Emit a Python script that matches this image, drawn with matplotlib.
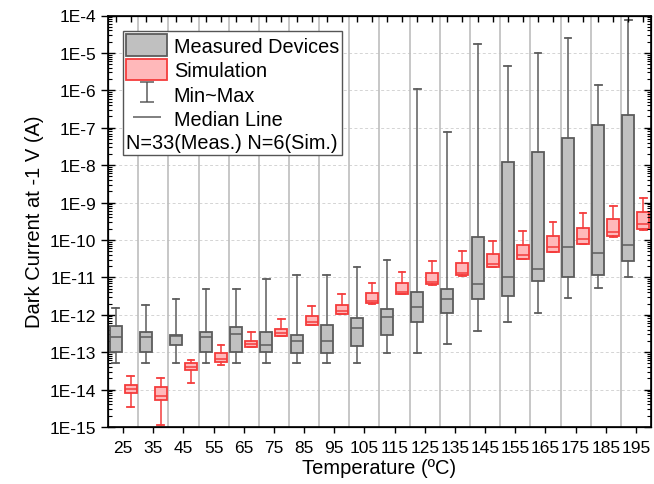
import numpy as np
import matplotlib
matplotlib.use('Agg')
import matplotlib.pyplot as plt
from matplotlib.patches import Patch
from matplotlib.lines import Line2D
from matplotlib.path import Path
from matplotlib.ticker import LogLocator, FuncFormatter, NullFormatter

plt.rcParams['font.family'] = ['Liberation Sans', 'DejaVu Sans']

# Temperature categories
temps = [25, 35, 45, 55, 65, 75, 85, 95, 105, 115, 125, 135, 145, 155, 165, 175, 185, 195]

# Measured devices, log10 of dark current (A)
meas_max = [-11.82, -11.73, -11.59, -11.30, -11.30, -11.04, -10.93, -10.93, -10.71, -10.54,
            -5.97, -7.11, -4.76, -5.34, -5.01, -4.60, -5.85, -4.11]
meas_q3 = [-12.29, -12.45, -12.53, -12.45, -12.34, -12.45, -12.53, -12.27, -12.08, -11.85,
           -11.38, -11.31, -9.91, -7.91, -7.66, -7.28, -6.93, -6.66]
meas_med = [-12.60, -12.60, -12.56, -12.60, -12.51, -12.80, -12.69, -12.69, -12.35, -12.07,
            -11.78, -11.59, -11.19, -11.00, -10.78, -10.20, -10.36, -10.14]
meas_q1 = [-13.00, -13.00, -12.80, -13.00, -13.00, -13.00, -13.01, -13.01, -12.83, -12.53,
           -12.20, -11.96, -11.58, -11.49, -11.10, -10.99, -10.94, -10.55]
meas_min = [-13.29, -13.29, -13.29, -13.29, -13.29, -13.29, -13.30, -13.30, -13.30, -13.01,
            -13.02, -12.78, -12.44, -12.18, -11.95, -11.55, -11.29, -10.99]

# Simulation, log10 of dark current (A)
sim_max = [-13.65, -13.69, -13.21, -12.81, -12.46, -12.10, -11.76, -11.45, -11.14, -10.85,
           -10.56, -10.29, -10.04, -9.77, -9.53, -9.29, -9.08, -8.88]
sim_q3 = [-13.89, -13.94, -13.29, -13.02, -12.69, -12.37, -12.03, -11.73, -11.43, -11.14,
          -10.87, -10.61, -10.37, -10.13, -9.90, -9.67, -9.45, -9.24]
sim_med = [-13.99, -14.17, -13.40, -13.18, -12.77, -12.50, -12.20, -11.91, -11.64, -11.38,
           -11.12, -10.87, -10.63, -10.40, -10.19, -9.98, -9.80, -9.58]
sim_q1 = [-14.08, -14.29, -13.47, -13.25, -12.85, -12.56, -12.27, -11.97, -11.69, -11.44,
          -11.19, -10.95, -10.72, -10.51, -10.31, -10.11, -9.90, -9.72]
sim_min = [-14.47, -14.94, -13.82, -13.35, -12.85, -12.57, -12.28, -11.98, -11.70, -11.45,
           -11.20, -10.96, -10.73, -10.52, -10.32, -10.12, -9.91, -9.73]

meas_face, meas_edge = '#c0c0c0', '#5c5c5c'
sim_face, sim_edge = '#ffb8ba', '#f43c3c'


def make_stats(mx, q3, med, q1, mn):
    stats = []
    for a, b, c, d, e in zip(mx, q3, med, q1, mn):
        stats.append({'whishi': 10 ** a, 'q3': 10 ** b, 'med': 10 ** c,
                      'q1': 10 ** d, 'whislo': 10 ** e, 'fliers': []})
    return stats


fig = plt.figure(figsize=(6.54, 4.85), dpi=100)
ax = fig.add_axes([108 / 654, 1 - 428 / 485, 543 / 654, 411.5 / 485])
ax.set_yscale('log')

x = np.arange(len(temps))
pos_meas = x - 0.25
pos_sim = x + 0.25

ax.bxp(make_stats(meas_max, meas_q3, meas_med, meas_q1, meas_min), positions=pos_meas,
       widths=0.4, capwidths=0.22, patch_artist=True, showfliers=False,
       boxprops=dict(facecolor=meas_face, edgecolor=meas_edge, linewidth=1.3),
       whiskerprops=dict(color=meas_edge, linewidth=1.1),
       capprops=dict(color=meas_edge, linewidth=1.3),
       medianprops=dict(color=meas_edge, linewidth=1.1), zorder=3)

ax.bxp(make_stats(sim_max, sim_q3, sim_med, sim_q1, sim_min), positions=pos_sim,
       widths=0.4, capwidths=0.22, patch_artist=True, showfliers=False,
       boxprops=dict(facecolor=sim_face, edgecolor=sim_edge, linewidth=1.3),
       whiskerprops=dict(color=sim_edge, linewidth=1.1),
       capprops=dict(color=sim_edge, linewidth=1.3),
       medianprops=dict(color=sim_edge, linewidth=1.1), zorder=3)

ax.set_xlim(-0.5, len(temps) - 0.5)
ax.set_ylim(1e-15, 1e-4)

# grid: dotted decades, solid separators between temperatures
ax.grid(axis='y', which='major', linestyle=(0, (3, 2.5)), color='#d4d4d4', linewidth=0.7)
for b in x[:-1] + 0.5:
    ax.axvline(b, color='#bdbdbd', linewidth=1.2, zorder=1)
ax.set_axisbelow(True)

ax.set_xticks(x)
ax.set_xticklabels([str(t) for t in temps])
ax.yaxis.set_major_locator(LogLocator(base=10, numticks=20))
ax.yaxis.set_minor_locator(LogLocator(base=10, subs=np.arange(2, 10), numticks=20))
ax.yaxis.set_major_formatter(FuncFormatter(lambda v, p: '1E%d' % round(np.log10(v))))
ax.yaxis.set_minor_formatter(NullFormatter())

ax.tick_params(axis='x', which='major', direction='out', length=4.5, width=1, labelsize=12.5, pad=5)
ax.tick_params(axis='y', which='major', direction='inout', length=10, width=1, labelsize=12.5, pad=3.5)
ax.tick_params(axis='y', which='minor', direction='in', length=3, width=0.8)
for s in ax.spines.values():
    s.set_linewidth(1.2)

# right and top tick marks
ax_r = ax.twinx()
ax_r.set_yscale('log')
ax_r.set_ylim(ax.get_ylim())
ax_r.yaxis.set_major_locator(LogLocator(base=10, numticks=20))
ax_r.yaxis.set_minor_locator(LogLocator(base=10, subs=np.arange(2, 10), numticks=20))
ax_r.tick_params(axis='y', which='major', direction='in', length=5, width=1, labelright=False)
ax_r.tick_params(axis='y', which='minor', direction='in', length=3, width=0.8, labelright=False)
ax_r.yaxis.set_minor_formatter(NullFormatter())

ax_t = ax.twiny()
ax_t.set_xlim(ax.get_xlim())
ax_t.set_xticks(np.sort(np.concatenate([pos_meas, pos_sim])))
ax_t.tick_params(axis='x', direction='in', length=4, width=1, labeltop=False)

ax.set_xlabel('Temperature (ºC)', fontsize=14.5, labelpad=2)
ax.set_ylabel('Dark Current at -1 V (A)', fontsize=14.5, labelpad=4)

# legend
bar_verts = [(-0.68, 1), (0.68, 1), (0, 1), (0, -1), (-0.68, -1), (0.68, -1)]
bar_codes = [Path.MOVETO, Path.LINETO, Path.MOVETO, Path.LINETO, Path.MOVETO, Path.LINETO]
minmax_marker = Path(bar_verts, bar_codes)
median_marker = Path([(-1, 0), (1, 0)], [Path.MOVETO, Path.LINETO])

handles = [
    Patch(facecolor=meas_face, edgecolor=meas_edge, linewidth=1.3),
    Patch(facecolor=sim_face, edgecolor=sim_edge, linewidth=1.3),
    Line2D([0], [0], linestyle='none', marker=minmax_marker, markersize=14,
           markeredgecolor=meas_edge, markeredgewidth=1.1, markerfacecolor='none'),
    Line2D([0], [0], linestyle='none', marker=median_marker, markersize=20,
           markeredgecolor=meas_edge, markeredgewidth=1.1),
]
labels = ['Measured Devices', 'Simulation', 'Min~Max', 'Median Line']

leg = ax_t.legend(handles, labels, title='N=33(Meas.) N=6(Sim.)', alignment='left',
                  loc='upper left', bbox_to_anchor=(0.028, 0.962), borderaxespad=0,
                  fontsize=14.3, title_fontsize=14.3, frameon=True, fancybox=False,
                  edgecolor='#555555', framealpha=1, borderpad=0.15, handlelength=2.07,
                  handleheight=1.3, handletextpad=0.32, labelspacing=0.15)
leg.get_frame().set_linewidth(1.0)
# put the sample-size line under the entries
leg._legend_box._children.reverse()
leg.set_zorder(10)

fig.savefig('out.png', dpi=100)
